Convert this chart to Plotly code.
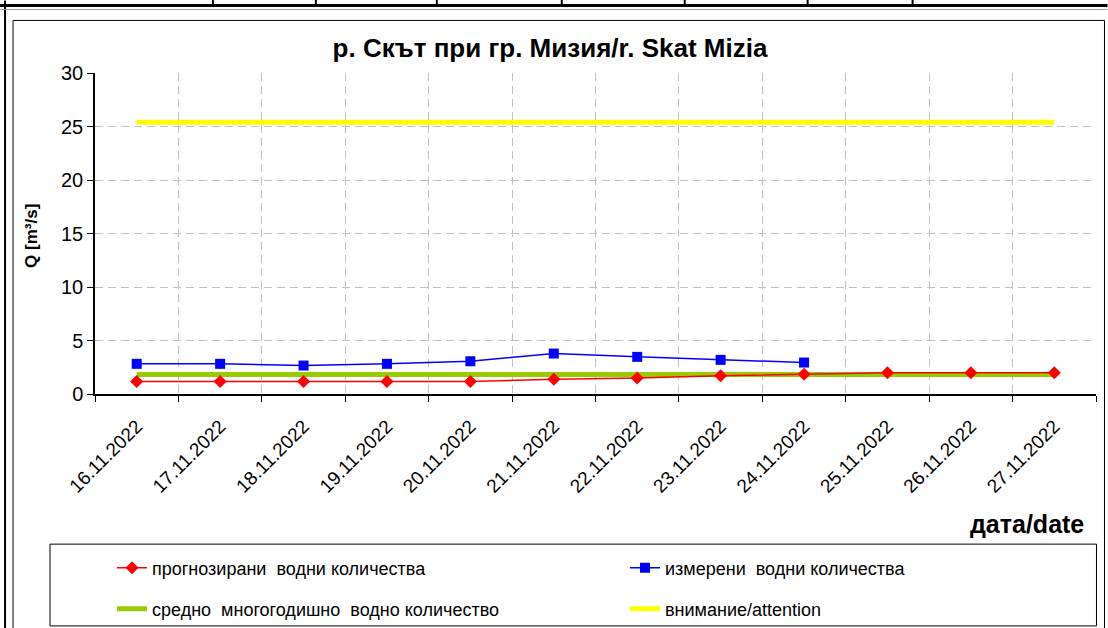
import plotly.graph_objects as go

# ---------------- data ----------------
dates = ["16.11.2022", "17.11.2022", "18.11.2022", "19.11.2022", "20.11.2022",
         "21.11.2022", "22.11.2022", "23.11.2022", "24.11.2022", "25.11.2022",
         "26.11.2022", "27.11.2022"]
forecast = [1.17, 1.17, 1.17, 1.17, 1.17, 1.38, 1.5, 1.7, 1.85, 1.98, 1.98, 1.98]
measured = [2.82, 2.82, 2.66, 2.82, 3.06, 3.78, 3.47, 3.19, 2.94, None, None, None]
mean_q = [1.82, 1.82, 1.82, 1.82, 1.82, 1.82, 1.82, 1.82, 1.82, 1.82, 1.82, 1.82]
attention = [25.4, 25.4, 25.4, 25.4, 25.4, 25.4, 25.4, 25.4, 25.4, 25.4, 25.4, 25.4]

y_ticks = [0, 5, 10, 15, 20, 25, 30]

title_text = "р. Скът при гр. Мизия/r. Skat Mizia"
names = ["прогнозирани  водни количества", "измерени  водни количества",
         "средно  многогодишно  водно количество", "внимание/attention"]

# ---------------- geometry ----------------
W, H = 1108, 628
L, R = 95.0, 1096.5
T, B = 72.7, 394.5
PW, PH = R - L, B - T


def px(x):
    return (x - L) / PW


def py(y):
    return (B - y) / PH


def cx(x):
    return x / W


def cy(y):
    return 1 - y / H


FONT = "Arial, 'Liberation Sans', sans-serif"

fig = go.Figure()

fig.add_trace(go.Scatter(
    x=dates, y=mean_q, mode="lines", name=names[2],
    line=dict(color="#99cc00", width=5), legend="legend3"))
fig.add_trace(go.Scatter(
    x=dates, y=attention, mode="lines", name=names[3],
    line=dict(color="#ffff00", width=5), legend="legend4"))
fig.add_trace(go.Scatter(
    x=dates, y=forecast, mode="lines+markers", name=names[0],
    line=dict(color="#ff0000", width=1.5),
    marker=dict(symbol="diamond", size=10, color="#ff0000"), legend="legend"))
fig.add_trace(go.Scatter(
    x=dates, y=measured, mode="lines+markers", name=names[1],
    line=dict(color="#0000ff", width=1.5),
    marker=dict(symbol="square", size=10, color="#0000ff"), legend="legend2"))

leg_common = dict(orientation="h", xanchor="left", yanchor="middle",
                  xref="container", yref="container",
                  bgcolor="rgba(0,0,0,0)", borderwidth=0,
                  font=dict(family=FONT, size=18, color="black"),
                  itemsizing="trace")

fig.update_layout(
    width=W, height=H,
    margin=dict(l=L, r=W - R, t=T, b=H - B, pad=0),
    paper_bgcolor="white", plot_bgcolor="white",
    font=dict(family=FONT, color="black"),
    title=dict(text=title_text, x=550 / W, xanchor="center", y=1 - 48 / H,
               yanchor="middle",
               font=dict(family=FONT, size=26, color="black", weight="bold")),
    xaxis=dict(type="category", range=[-0.5, 11.5], tickson="boundaries",
               ticks="outside", ticklen=6, tickcolor="black",
               showline=True, linecolor="black", linewidth=1.5,
               showgrid=True, gridcolor="#c0c0c0", griddash="8px,5px",
               gridwidth=1, tickangle=-45, ticklabelstandoff=12,
               tickfont=dict(family=FONT, size=19, color="black")),
    yaxis=dict(range=[0, 30], tickvals=y_ticks, ticks="outside", ticklen=6,
               tickcolor="black", showline=True, linecolor="black",
               linewidth=1.5, showgrid=True, gridcolor="#c0c0c0",
               griddash="8px,5px", gridwidth=1, zeroline=False,
               tickfont=dict(family=FONT, size=20, color="black")),
    legend=dict(x=cx(112), y=cy(568), **leg_common),
    legend2=dict(x=cx(625), y=cy(568), **leg_common),
    legend3=dict(x=cx(112), y=cy(609), **leg_common),
    legend4=dict(x=cx(625), y=cy(609), **leg_common),
    showlegend=True,
)

# axis titles
fig.add_annotation(text="Q [m³/s]", xref="paper", yref="paper",
                   x=px(32), y=py(236), xanchor="center", yanchor="middle",
                   textangle=-90, showarrow=False,
                   font=dict(family=FONT, size=17, color="black", weight="bold"))
fig.add_annotation(text="дата/date", xref="paper", yref="paper",
                   x=px(1086), y=py(525), xanchor="right", yanchor="middle",
                   showarrow=False,
                   font=dict(family=FONT, size=25, color="black", weight="bold"))

# frame / legend box / top table strip
shapes = [
    dict(type="rect", xref="paper", yref="paper", x0=px(13), x1=px(1105),
         y0=py(20), y1=py(640), line=dict(color="black", width=1)),
    dict(type="rect", xref="paper", yref="paper", x0=px(50), x1=px(1097),
         y0=py(545), y1=py(627), line=dict(color="black", width=1)),
    dict(type="line", xref="paper", yref="paper", x0=px(5), x1=px(5),
         y0=py(0), y1=py(640), line=dict(color="black", width=2)),
    dict(type="line", xref="paper", yref="paper", x0=px(0), x1=px(1108),
         y0=py(5), y1=py(5), line=dict(color="black", width=3)),
    dict(type="line", xref="paper", yref="paper", x0=px(0), x1=px(1108),
         y0=py(9), y1=py(9), line=dict(color="#999999", width=1)),
]
for vx in [213, 316, 437, 562, 685, 808, 913]:
    shapes.append(dict(type="line", xref="paper", yref="paper", x0=px(vx),
                       x1=px(vx), y0=py(-2), y1=py(5),
                       line=dict(color="black", width=2)))
fig.update_layout(shapes=shapes)

fig.write_html(
    "out.html",
    config={"displayModeBar": False},
    post_script="document.body.style.margin='0';"
                "document.documentElement.style.overflow='hidden';"
                "document.body.style.overflow='hidden';",
)
